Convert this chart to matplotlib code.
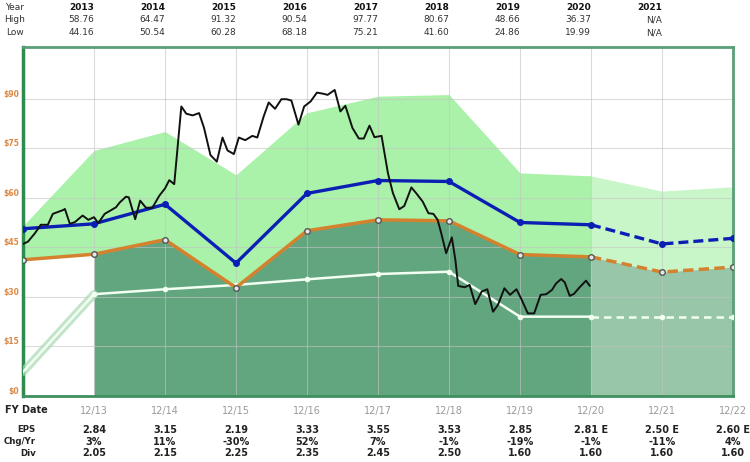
import numpy as np
import matplotlib.pyplot as plt
from matplotlib import transforms

# fiscal year ends 12/12 .. 12/22 as decimal dates
fy_end = np.arange(2013, 2024)
fy_labels = ["12/12", "12/13", "12/14", "12/15", "12/16", "12/17",
             "12/18", "12/19", "12/20", "12/21", "12/22"]
forecast_from = 8  # index of 12/20, estimates after this

# valuation lines ($)
upper_band = [51.5, 74.3, 80.0, 66.9, 85.7, 90.7, 91.2, 67.5, 66.6, 62.0, 63.3]
normal_pe = [50.6, 52.1, 58.0, 40.2, 61.3, 65.2, 64.9, 52.5, 51.8, 46.0, 47.7]
pe15 = [41.2, 42.9, 47.3, 32.8, 50.0, 53.3, 53.0, 42.8, 42.1, 37.5, 39.0]
div_line = [7.3, 30.8, 32.3, 33.6, 35.3, 36.9, 37.6, 24.0, 24.0, 24.0, 24.0]

# monthly-ish share price
price_t = [2013.00, 2013.07, 2013.17, 2013.25, 2013.35, 2013.42, 2013.57, 2013.59,
           2013.66, 2013.73, 2013.84, 2013.92, 2014.00, 2014.06, 2014.15, 2014.23,
           2014.31, 2014.36, 2014.45, 2014.49, 2014.58, 2014.65, 2014.73, 2014.82,
           2014.92, 2015.00, 2015.06, 2015.13, 2015.23, 2015.30, 2015.39, 2015.48,
           2015.55, 2015.64, 2015.73, 2015.81, 2015.88, 2015.97, 2016.04, 2016.13,
           2016.23, 2016.30, 2016.39, 2016.46, 2016.55, 2016.64, 2016.71, 2016.78,
           2016.88, 2016.96, 2017.05, 2017.14, 2017.24, 2017.29, 2017.39, 2017.47,
           2017.54, 2017.64, 2017.73, 2017.80, 2017.88, 2017.95, 2018.05, 2018.14,
           2018.21, 2018.30, 2018.37, 2018.47, 2018.54, 2018.63, 2018.71, 2018.78,
           2018.84, 2018.89, 2018.96, 2019.04, 2019.09, 2019.13, 2019.22, 2019.29,
           2019.37, 2019.46, 2019.54, 2019.62, 2019.69, 2019.78, 2019.86, 2019.95,
           2020.02, 2020.11, 2020.20, 2020.29, 2020.37, 2020.45, 2020.51, 2020.58,
           2020.63, 2020.70, 2020.76, 2020.84, 2020.93, 2020.98]
price_v = [46.0, 46.7, 49.3, 51.8, 51.8, 55.1, 56.3, 56.6,
           52.1, 52.6, 54.6, 53.3, 54.1, 52.3, 55.1, 56.1,
           57.1, 58.5, 60.3, 60.1, 53.5, 59.1, 57.0, 56.9,
           60.6, 62.8, 65.3, 64.1, 87.6, 85.4, 84.9, 85.6,
           81.1, 72.9, 70.9, 78.2, 74.3, 73.2, 78.2, 77.4,
           78.7, 78.2, 84.6, 88.8, 86.9, 89.8, 89.8, 89.4,
           82.1, 87.6, 89.1, 91.8, 91.4, 91.1, 92.6, 86.1,
           87.8, 81.1, 77.9, 77.9, 81.8, 78.3, 78.7, 67.4,
           61.4, 56.5, 57.5, 63.1, 61.3, 58.8, 55.3, 55.1,
           53.3, 49.3, 43.2, 48.0, 41.1, 33.3, 32.9, 33.6,
           27.8, 31.6, 32.3, 25.5, 27.6, 32.6, 30.6, 32.3,
           29.3, 25.0, 25.0, 30.6, 30.8, 32.1, 34.1, 35.4,
           34.4, 30.3, 30.9, 32.9, 34.9, 33.4]

# header table
years = ["2013", "2014", "2015", "2016", "2017", "2018", "2019", "2020", "2021"]
high = ["58.76", "64.47", "91.32", "90.54", "97.77", "80.67", "48.66", "36.37", "N/A"]
low = ["44.16", "50.54", "60.28", "68.18", "75.21", "41.60", "24.86", "19.99", "N/A"]

# footer table
eps_text = ["2.84", "3.15", "2.19", "3.33", "3.55", "3.53", "2.85", "2.81 E", "2.50 E", "2.60 E"]
chg_text = ["3%", "11%", "-30%", "52%", "7%", "-1%", "-19%", "-1%", "-11%", "4%"]
div_text = ["2.05", "2.15", "2.25", "2.35", "2.45", "2.50", "1.60", "1.60", "1.60", "1.60"]

y_ticks = [0, 15, 30, 45, 60, 75, 90]

W, H = 750, 462
fig = plt.figure(figsize=(W / 100, H / 100), dpi=100)
ax = fig.add_axes([23 / W, 1 - 396 / H, 710 / W, 348.7 / H])

fy = np.array(fy_end, dtype=float)
f = forecast_from
up = np.array(upper_band)
blue = np.array(normal_pe)
orange = np.array(pe15)
white = np.array(div_line)

# shaded areas
ax.fill_between(fy[:f + 1], orange[:f + 1], up[:f + 1], color="#aaf2aa", lw=0, zorder=1)
ax.fill_between(fy[f:], orange[f:], up[f:], color="#c9f6c9", lw=0, zorder=1)
ax.fill_between(fy[1:f + 1], 0, orange[1:f + 1], color="#62a67f", lw=0, zorder=1)
ax.fill_between(fy[f:], 0, orange[f:], color="#97c6a8", lw=0, zorder=1)

# dividend line (white), with soft glow on the first segment
ax.plot(fy[:2], white[:2], color="#a9d9b5", lw=6, alpha=0.7, zorder=3,
        solid_capstyle="round")
ax.plot(fy[:f + 1], white[:f + 1], color="#f2fff2", lw=1.8, zorder=3)
ax.plot(fy[f:], white[f:], color="#f2fff2", lw=1.8, ls=(0, (3, 2)), zorder=3)
ax.plot(fy[1:], white[1:], "o", ms=3, color="#f2fff2", zorder=3)

# 15x EPS line (orange)
ax.plot(fy[:f + 1], orange[:f + 1], color="#d5822e", lw=2.5, zorder=4)
ax.plot(fy[f:], orange[f:], color="#d5822e", lw=2.5, ls=(0, (3, 1.5)), zorder=4)
ax.plot(fy, orange, "o", ms=4, mfc="#e6e6e6", mec="#555555", mew=1, zorder=5)

# normal P/E line (blue)
ax.plot(fy[:f + 1], blue[:f + 1], color="#0b1fb5", lw=2.4, zorder=4)
ax.plot(fy[f:], blue[f:], color="#0b1fb5", lw=2.4, ls=(0, (3, 1.5)), zorder=4)
ax.plot(fy, blue, "o", ms=4, color="#0b1fb5", zorder=5)

# price
ax.plot(price_t, price_v, color="#111111", lw=1.4, zorder=6)

ax.set_xlim(fy[0], fy[-1])
ax.set_ylim(0, 105.5)
ax.set_xticks(fy[1:])
ax.set_xticklabels(fy_labels[1:], color="#999999", fontsize=7)
ax.set_yticks(y_ticks)
ax.set_yticklabels(["$%d" % v for v in y_ticks], color="#dd8844",
                   fontsize=5.5, fontweight="bold")
for lbl in ax.get_yticklabels():
    lbl.set_verticalalignment("bottom")
ax.tick_params(length=0)
ax.tick_params(axis="x", pad=7)
ax.tick_params(axis="y", pad=3)
ax.grid(color="#c4c4c4", lw=0.8, alpha=0.6)

for side, s in ax.spines.items():
    s.set_color("#5a9f78")
    s.set_linewidth(2)
ax.spines["left"].set_color("#2f8a4f")
ax.spines["bottom"].set_color("#3f8f5f")
ax.spines["left"].set_linewidth(2.5)

trans = transforms.blended_transform_factory(ax.transData, fig.transFigure)


def yfig(ypx):
    return 1 - ypx / H


# header rows
for name, ypx in [("Year", 7.3), ("High", 20), ("Low", 32.7)]:
    fig.text(15 / W, yfig(ypx), name, ha="center", va="center", fontsize=6.5,
             color="#333333")
for i in range(len(years)):
    x = fy[i + 1]
    fig.text(x, yfig(7.3), years[i], transform=trans, ha="right", va="center",
             fontsize=6.5, fontweight="bold", color="#111111")
    fig.text(x, yfig(20), high[i], transform=trans, ha="right", va="center",
             fontsize=6.5, color="#333333")
    fig.text(x, yfig(32.7), low[i], transform=trans, ha="right", va="center",
             fontsize=6.5, color="#333333")

# footer rows
fig.text(5 / W, yfig(410), "FY Date", ha="left", va="center", fontsize=7,
         fontweight="bold", color="#222222")
rows = [("EPS", 430, eps_text), ("Chg/Yr", 441.7, chg_text), ("Div", 453.3, div_text)]
for name, ypx, vals in rows:
    fig.text(36 / W, yfig(ypx), name, ha="right", va="center", fontsize=6.2,
             fontweight="bold", color="#222222")
    for i, v in enumerate(vals):
        fig.text(fy[i + 1], yfig(ypx), v, transform=trans, ha="center",
                 va="center", fontsize=7, fontweight="bold", color="#222222")

fig.savefig("out.png", dpi=100)
